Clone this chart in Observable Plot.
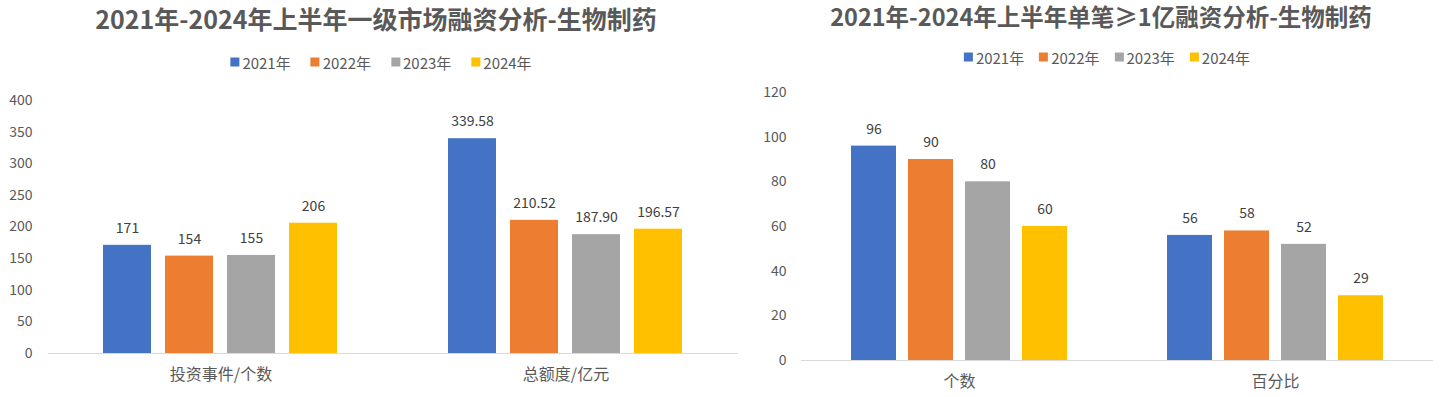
<!DOCTYPE html>
<html>
<head>
<meta charset="utf-8">
<script src="https://cdn.jsdelivr.net/npm/d3@7"></script>
<script src="https://cdn.jsdelivr.net/npm/@observablehq/plot@0.6"></script>
<style>
  html, body { margin: 0; padding: 0; background: #fff; }
  body { width: 1443px; height: 397px; position: relative; overflow: hidden;
         font-family: "Noto Sans CJK SC", "Noto Sans", sans-serif; color: #595959; }
  .title { position: absolute; transform: translate(-50%, -50%); font-weight: bold; white-space: nowrap; color: #595959; }
  .legend { position: absolute; transform: translate(-50%, -50%); display: flex; white-space: nowrap; font-size: 15px; color: #595959; }
  .legend .item { display: flex; align-items: center; }
  .legend .sw { width: 9px; height: 9px; margin-right: 3px; }
  .chart { position: absolute; }
</style>
</head>
<body>
<div id="root"></div>
<script>
// ---- data ----
const years = ["2021年", "2022年", "2023年", "2024年"];
const colors = ["#4472C4", "#ED7D31", "#A5A5A5", "#FFC000"];

const leftTitle = "2021年-2024年上半年一级市场融资分析-生物制药";
const leftCategories = ["投资事件/个数", "总额度/亿元"];
const leftEvents = [171, 154, 155, 206];
const leftAmounts = [339.58, 210.52, 187.90, 196.57];
const leftDecimals = [0, 2];
const leftTicks = [0, 50, 100, 150, 200, 250, 300, 350, 400];

const rightTitle = "2021年-2024年上半年单笔≥1亿融资分析-生物制药";
const rightCategories = ["个数", "百分比"];
const rightCounts = [96, 90, 80, 60];
const rightPercents = [56, 58, 52, 29];
const rightDecimals = [0, 0];
const rightTicks = [0, 20, 40, 60, 80, 100, 120];

const root = document.getElementById("root");

function addTitle(text, cx, cy, size) {
  const d = document.createElement("div");
  d.className = "title";
  d.style.left = cx + "px"; d.style.top = cy + "px"; d.style.fontSize = size + "px";
  d.textContent = text;
  root.appendChild(d);
}

function addLegend(cx, cy, gap) {
  const d = document.createElement("div");
  d.className = "legend";
  d.style.left = cx + "px"; d.style.top = cy + "px"; d.style.gap = gap + "px";
  years.forEach((y, i) => {
    const it = document.createElement("div"); it.className = "item";
    const sw = document.createElement("div"); sw.className = "sw"; sw.style.background = colors[i];
    const t = document.createElement("span"); t.textContent = y;
    it.appendChild(sw); it.appendChild(t); d.appendChild(it);
  });
  root.appendChild(d);
}

function makeChart(o) {
  const data = o.cats.flatMap((c, i) => years.map((y, j) => ({
    cat: c, year: y, value: o.series[i][j], label: o.series[i][j].toFixed(o.decimals[i])
  })));
  const chart = Plot.plot({
    width: o.width, height: o.height,
    marginLeft: o.marginLeft, marginRight: o.marginRight,
    marginTop: o.marginTop, marginBottom: o.marginBottom,
    style: { fontFamily: '"Noto Sans CJK SC", "Noto Sans", sans-serif', color: "#595959", background: "transparent", overflow: "visible" },
    fx: { domain: o.cats, padding: 0, label: null },
    x: { domain: years, axis: null, paddingInner: o.paddingInner, paddingOuter: o.paddingOuter },
    y: { domain: o.yDomain, label: null },
    color: { domain: years, range: colors },
    marks: [
      Plot.axisY({ ticks: o.yTicks, tickSize: 0, tickPadding: o.yPad, fontSize: 14, label: null, fill: "#595959" }),
      Plot.axisFx({ anchor: "bottom", tickSize: 0, tickPadding: o.xPad, fontSize: 16, label: null, fill: "#595959" }),
      Plot.barY(data, { fx: "cat", x: "year", y: "value", fill: "year" }),
      Plot.ruleY([0], { stroke: "#D9D9D9", strokeWidth: 1 }),
      Plot.text(data, { fx: "cat", x: "year", y: "value", text: "label", dy: -17, fill: "#404040", fontSize: 14 })
    ]
  });
  chart.classList.add("chart");
  chart.style.left = o.left + "px";
  chart.style.top = o.top + "px";
  root.appendChild(chart);
}

// left chart
addTitle(leftTitle, 376, 18, 25);
addLegend(381, 62, 20);
makeChart({
  cats: leftCategories, series: [leftEvents, leftAmounts], decimals: leftDecimals,
  yDomain: [0, 400], yTicks: leftTicks,
  left: 0, top: 80, width: 740, height: 317,
  marginLeft: 48, marginRight: 2, marginTop: 20, marginBottom: 44,
  paddingInner: 0.22, paddingOuter: 0.86, yPad: 16, xPad: 15
});

// right chart
addTitle(rightTitle, 1101, 16, 23.5);
addLegend(1107, 57, 15);
makeChart({
  cats: rightCategories, series: [rightCounts, rightPercents], decimals: rightDecimals,
  yDomain: [0, 120], yTicks: rightTicks,
  left: 730, top: 80, width: 713, height: 317,
  marginLeft: 70, marginRight: 10, marginTop: 12, marginBottom: 37,
  paddingInner: 0.215, paddingOuter: 0.87, yPad: 15, xPad: 15
});
</script>
</body>
</html>
